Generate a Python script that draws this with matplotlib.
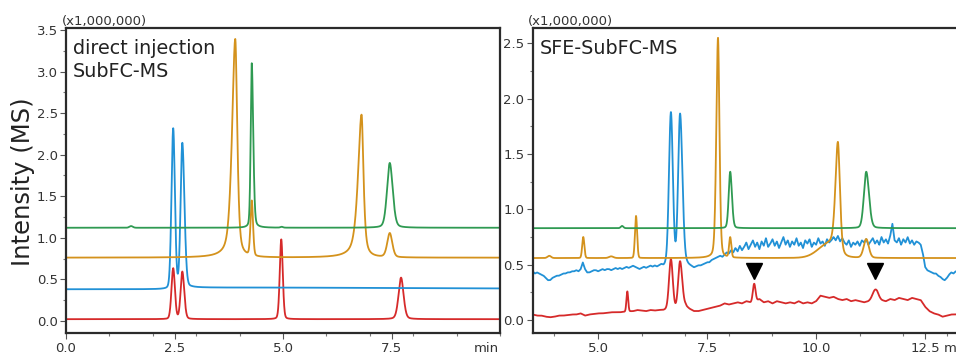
import numpy as np
import matplotlib.pyplot as plt
from matplotlib.ticker import MultipleLocator

# trace colours
c_green = '#2f9a52'
c_orange = '#d4921c'
c_blue = '#2191d6'
c_red = '#d62a2a'

# ---------------- left panel: direct injection SubFC-MS ----------------
# baselines (x1,000,000)
l_green_base = 1.12
l_orange_base = 0.76
l_blue_base_t = [0.0, 2.3, 2.9, 5.0, 10.0]
l_blue_base = [0.38, 0.38, 0.40, 0.40, 0.39]
l_red_base = 0.02

# peaks: [time (min), height, left width, right width, lorentz part]
l_green_pk = [[1.50, 0.02, 0.04, 0.04, 0.0],
              [4.28, 1.98, 0.025, 0.035, 0.3],
              [4.97, 0.01, 0.03, 0.03, 0.0],
              [7.46, 0.78, 0.065, 0.07, 0.3]]
l_orange_pk = [[3.90, 2.63, 0.08, 0.05, 0.6],
               [4.28, 0.66, 0.03, 0.03, 0.2],
               [6.81, 1.72, 0.09, 0.05, 0.7],
               [7.46, 0.29, 0.06, 0.06, 0.3]]
l_blue_pk = [[2.47, 1.92, 0.04, 0.04, 0.15],
             [2.68, 1.74, 0.04, 0.05, 0.2]]
l_red_pk = [[2.47, 0.61, 0.04, 0.04, 0.15],
            [2.68, 0.57, 0.04, 0.045, 0.2],
            [4.96, 0.96, 0.035, 0.035, 0.2],
            [7.72, 0.50, 0.06, 0.06, 0.3]]

# ---------------- right panel: SFE-SubFC-MS ----------------
r_green_base = 0.83
r_orange_base = 0.56

# noisy blue baseline, every 0.05 min from 3.40
r_blue_base = [
    0.44, 0.43, 0.44, 0.42, 0.43, 0.42, 0.41, 0.40, 0.38, 0.36, 0.36, 0.38, 0.39, 0.40, 0.40, 0.41, 0.42, 0.42, 0.43, 0.43,
    0.44, 0.44, 0.45, 0.44, 0.46, 0.52, 0.46, 0.43, 0.43, 0.44, 0.45, 0.45, 0.44, 0.45, 0.46, 0.45, 0.46, 0.46, 0.45, 0.46,
    0.47, 0.46, 0.47, 0.46, 0.47, 0.48, 0.47, 0.48, 0.49, 0.48, 0.47, 0.46, 0.47, 0.48, 0.47, 0.48, 0.49, 0.48, 0.49, 0.48,
    0.49, 0.50, 0.49, 0.50, 0.50, 0.50, 0.50, 0.50, 0.50, 0.50, 0.50, 0.50, 0.50, 0.50, 0.49, 0.48, 0.47, 0.48, 0.49, 0.49,
    0.50, 0.51, 0.52, 0.52, 0.54, 0.55, 0.56, 0.57, 0.58, 0.57, 0.59, 0.61, 0.60, 0.63, 0.61, 0.65, 0.62, 0.67, 0.63, 0.66,
    0.70, 0.64, 0.68, 0.72, 0.66, 0.70, 0.64, 0.71, 0.67, 0.74, 0.66, 0.69, 0.73, 0.67, 0.71, 0.65, 0.70, 0.75, 0.68, 0.72,
    0.66, 0.71, 0.68, 0.74, 0.67, 0.70, 0.65, 0.72, 0.69, 0.73, 0.66, 0.70, 0.68, 0.74, 0.69, 0.71, 0.67, 0.73, 0.70, 0.72,
    0.75, 0.72, 0.76, 0.71, 0.74, 0.70, 0.68, 0.72, 0.66, 0.70, 0.68, 0.71, 0.67, 0.72, 0.70, 0.73, 0.68, 0.71, 0.74, 0.69,
    0.72, 0.68, 0.75, 0.70, 0.73, 0.69, 0.76, 0.87, 0.72, 0.70, 0.74, 0.68, 0.73, 0.70, 0.75, 0.69, 0.72, 0.68, 0.71, 0.70,
    0.68, 0.60, 0.48, 0.45, 0.44, 0.43, 0.42, 0.42, 0.40, 0.39, 0.37, 0.36, 0.38, 0.41, 0.43, 0.42, 0.44, 0.43, 0.44, 0.44]
r_blue_base_t = np.round(3.40 + 0.05 * np.arange(len(r_blue_base)), 2)

# red baseline, every 0.1 min from 3.4
r_red_base = [
    0.05, 0.05, 0.04, 0.04, 0.03, 0.025, 0.03, 0.04, 0.04, 0.045,
    0.05, 0.05, 0.06, 0.04, 0.05, 0.055, 0.06, 0.06, 0.065, 0.07,
    0.07, 0.07, 0.075, 0.08, 0.08, 0.09, 0.085, 0.08, 0.09, 0.085,
    0.09, 0.09, 0.10, 0.10, 0.10, 0.10, 0.13, 0.10, 0.08, 0.08,
    0.09, 0.10, 0.11, 0.12, 0.13, 0.15, 0.14, 0.15, 0.16, 0.15,
    0.17, 0.16, 0.17, 0.19, 0.16, 0.17, 0.15, 0.17, 0.16, 0.15,
    0.16, 0.15, 0.17, 0.15, 0.16, 0.15, 0.17, 0.22, 0.21, 0.20,
    0.21, 0.19, 0.18, 0.19, 0.17, 0.18, 0.17, 0.16, 0.17, 0.19,
    0.20, 0.18, 0.17, 0.19, 0.18, 0.20, 0.19, 0.18, 0.20, 0.19,
    0.18, 0.12, 0.08, 0.06, 0.05, 0.03, 0.04, 0.05, 0.05, 0.06]
r_red_base_t = np.round(3.4 + 0.1 * np.arange(len(r_red_base)), 1)

r_green_pk = [[5.55, 0.02, 0.03, 0.03, 0.0],
              [8.03, 0.51, 0.035, 0.04, 0.2],
              [11.15, 0.51, 0.055, 0.065, 0.2]]
r_orange_pk = [[3.88, 0.02, 0.04, 0.04, 0.0],
               [4.66, 0.19, 0.025, 0.025, 0.1],
               [5.30, 0.015, 0.05, 0.05, 0.0],
               [5.87, 0.38, 0.025, 0.025, 0.1],
               [7.75, 1.99, 0.04, 0.035, 0.3],
               [8.03, 0.18, 0.025, 0.025, 0.1],
               [10.30, 0.12, 0.25, 0.15, 0.0],
               [10.50, 1.00, 0.06, 0.05, 0.4],
               [11.15, 0.17, 0.06, 0.06, 0.2]]
r_blue_pk = [[6.67, 1.37, 0.045, 0.045, 0.1],
             [6.88, 1.36, 0.045, 0.055, 0.15]]
r_red_pk = [[5.67, 0.18, 0.02, 0.02, 0.0],
            [6.67, 0.45, 0.043, 0.043, 0.1],
            [6.88, 0.43, 0.043, 0.05, 0.1],
            [8.58, 0.16, 0.03, 0.03, 0.0],
            [11.36, 0.08, 0.06, 0.06, 0.0]]

# marked peaks (triangles)
mark_t = [8.58, 11.36]
mark_y = [0.44, 0.44]


def peaks(t, table):
    y = np.zeros_like(t)
    for c, h, wl, wr, eta in table:
        w = np.where(t < c, wl, wr)
        d = (t - c) / w
        y += h * ((1 - eta) * np.exp(-0.5 * d ** 2) + eta / (1 + d ** 2))
    return y


fig = plt.figure(figsize=(9.56, 3.54), dpi=100)
ax1 = fig.add_axes([66 / 956, 1 - 333.3 / 354, 434 / 956, 305 / 354])
# right panel runs past the figure edge, like the cropped original
ax2 = fig.add_axes([532.7 / 956, 1 - 333.3 / 354, 437.3 / 956, 305 / 354])

tl = np.linspace(0, 10, 4001)
ax1.plot(tl, l_red_base + peaks(tl, l_red_pk), color=c_red, lw=1.3)
ax1.plot(tl, np.interp(tl, l_blue_base_t, l_blue_base) + peaks(tl, l_blue_pk), color=c_blue, lw=1.3)
ax1.plot(tl, l_orange_base + peaks(tl, l_orange_pk), color=c_orange, lw=1.3)
ax1.plot(tl, l_green_base + peaks(tl, l_green_pk), color=c_green, lw=1.3)

tr = np.linspace(3.4, 13.5, 4001)
ax2.plot(tr, np.interp(tr, r_red_base_t, r_red_base) + peaks(tr, r_red_pk), color=c_red, lw=1.3)
ax2.plot(tr, np.interp(tr, r_blue_base_t, r_blue_base) + peaks(tr, r_blue_pk), color=c_blue, lw=1.3)
ax2.plot(tr, r_orange_base + peaks(tr, r_orange_pk), color=c_orange, lw=1.3)
ax2.plot(tr, r_green_base + peaks(tr, r_green_pk), color=c_green, lw=1.3)
ax2.plot(mark_t, mark_y, 'v', color='black', markersize=11)

ax1.set_xlim(0, 10)
ax1.set_ylim(-0.15, 3.52)
ax2.set_xlim(3.50, 13.53)
ax2.set_ylim(-0.12, 2.636)

ax1.set_xticks([0, 2.5, 5, 7.5])
ax1.set_xticklabels(['0.0', '2.5', '5.0', '7.5'])
ax2.set_xticks([5, 7.5, 10, 12.5])
ax2.set_xticklabels(['5.0', '7.5', '10.0', '12.5'])

for ax in (ax1, ax2):
    ax.yaxis.set_major_locator(MultipleLocator(0.5))
    ax.yaxis.set_minor_locator(MultipleLocator(0.25))
    ax.xaxis.set_minor_locator(MultipleLocator(1.0))
    ax.yaxis.set_major_formatter(plt.FormatStrFormatter('%.1f'))
    ax.tick_params(which='major', length=4, width=0.8, color='#555555',
                   labelsize=9.5, labelcolor='#333333', pad=2)
    ax.tick_params(which='minor', length=2.5, width=0.8, color='#777777')
    for s in ax.spines.values():
        s.set_linewidth(1.6)
        s.set_color('#2b2b2b')
    ax.annotate('min', xy=(1.0, 0.0), xycoords='axes fraction',
                xytext=(-1, -6), textcoords='offset points',
                ha='right', va='top', fontsize=9.5, color='#333333')
    ax.text(-0.01, 1.0, '(x1,000,000)', transform=ax.transAxes, ha='left',
            va='bottom', fontsize=9.5, color='#333333')

ax1.text(0.016, 0.965, 'direct injection\nSubFC-MS', transform=ax1.transAxes,
         ha='left', va='top', fontsize=13.8, linespacing=1.25, color='#222222')
ax2.text(0.016, 0.965, 'SFE-SubFC-MS', transform=ax2.transAxes,
         ha='left', va='top', fontsize=13.8, color='#222222')

fig.text(0.024, 0.486, 'Intensity (MS)', rotation=90, ha='center', va='center',
         fontsize=17.5, color='#222222')

fig.savefig('out.png', dpi=100)
